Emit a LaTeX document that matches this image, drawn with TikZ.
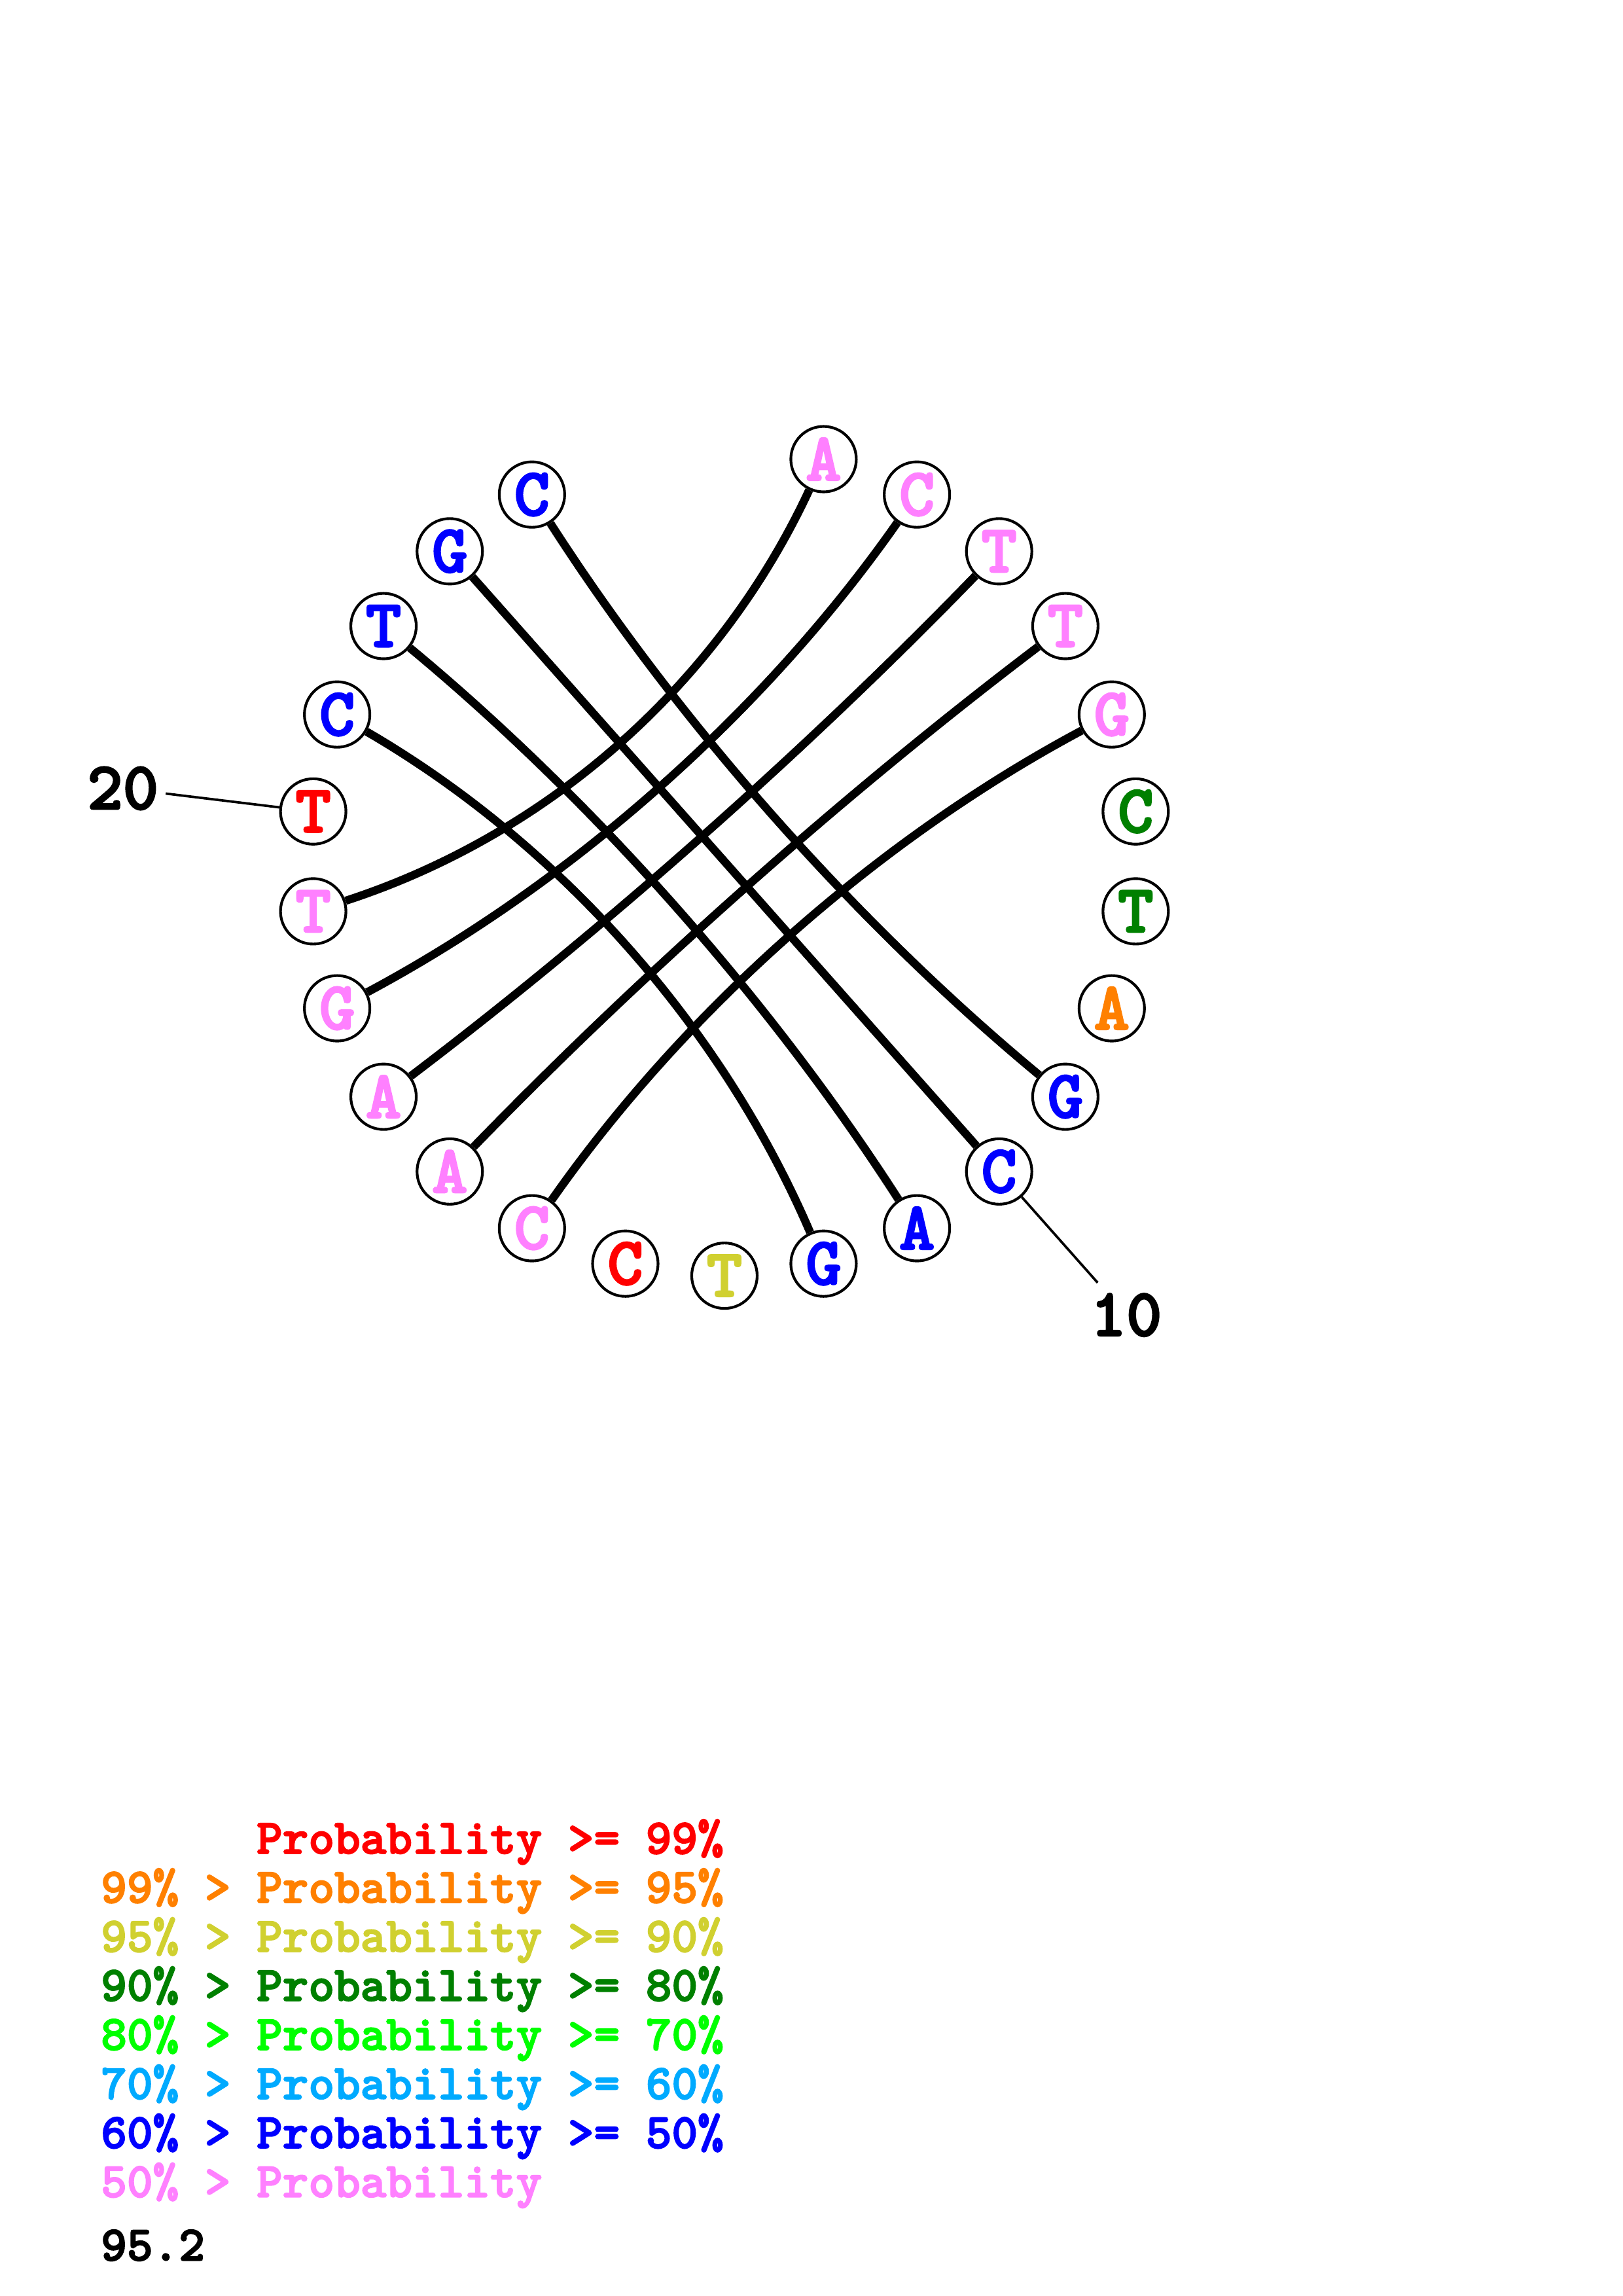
\documentclass[tikz,border=0pt]{standalone}
\usepackage{fontspec}
\usetikzlibrary{calc}
\newfontfamily\monobold{lmmonolt10-bold.otf}[FakeBold=2.5]
\definecolor{probred}{RGB}{255,0,0}
\definecolor{proborange}{RGB}{255,128,0}
\definecolor{probyellow}{RGB}{208,208,48}
\definecolor{probgreen}{RGB}{0,128,0}
\definecolor{problime}{RGB}{0,255,0}
\definecolor{probsky}{RGB}{0,170,255}
\definecolor{probblue}{RGB}{0,0,255}
\definecolor{probpink}{RGB}{255,128,255}
\tikzset{
  nuc/.style={circle,draw,line width=1pt,fill=white,minimum size=0.847cm,inner sep=0pt,
    font=\monobold\fontsize{25}{25}\selectfont},
  pairline/.style={line width=3pt},
  leader/.style={line width=0.9pt},
  numlabel/.style={inner sep=0pt,font=\monobold\fontsize{25}{25}\selectfont},
  legend/.style={anchor=base west,inner sep=0pt,font=\monobold\fontsize{18.2}{19}\selectfont}
}
\begin{document}
\begin{tikzpicture}
    \useasboundingbox (0,0) rectangle (21,29.716);
    \coordinate (o) at (9.377,18.567);
    % nucleotides, clockwise from the top
    \foreach \k/\b/\c in {1/A/probpink,2/C/probpink,3/T/probpink,4/T/probpink,5/G/probpink,
        6/C/probgreen,7/T/probgreen,8/A/proborange,9/G/probblue,10/C/probblue,11/A/probblue,
        12/G/probblue,13/T/probyellow,14/C/probred,15/C/probpink,16/A/probpink,17/A/probpink,
        18/G/probpink,19/T/probpink,20/T/probred,21/C/probblue,22/T/probblue,23/G/probblue,24/C/probblue}
        \node[nuc,text=\c] (n\k) at ($(o)+(90-\k*360/26:5.362)$) {\b};
    % base pairs
    \foreach \a/\b in {1/19,2/18,3/17,4/16,5/15,24/9,23/10,22/11,21/12} {
        \coordinate (m) at ($(n\a)!0.5!(n\b)$);
        \coordinate (q) at ($(o)!0.37!(m)$);
        \draw[pairline] (n\a) .. controls ($(n\a)!0.667!(q)$) and ($(n\b)!0.667!(q)$) .. (n\b);
    }
    % numbering
    \coordinate (e10) at ($(o)+(90-10*360/26:7.285)$);
    \draw[leader] (n10) -- (e10);
    \node[numlabel] (l10) at ($(o)+(90-10*360/26:7.844)$) {10};
    \coordinate (e20) at ($(o)+(90-20*360/26:7.285)$);
    \draw[leader] (n20) -- (e20);
    \node[numlabel] (l20) at ($(o)+(90-20*360/26:7.844)$) {20};
    % legend
    \foreach \i/\c/\t in {0/probred/{\hphantom{99\% > }Probability >= 99\%},
        1/proborange/{99\% > Probability >= 95\%},2/probyellow/{95\% > Probability >= 90\%},
        3/probgreen/{90\% > Probability >= 80\%},4/problime/{80\% > Probability >= 70\%},
        5/probsky/{70\% > Probability >= 60\%},6/probblue/{60\% > Probability >= 50\%},
        7/probpink/{50\% > Probability}}
        \node[legend,text=\c] (p\i) at (1.30,5.726-\i*0.635) {\t};
    \node[legend] (score) at (1.30,0.46) {95.2};
\end{tikzpicture}
\end{document}
